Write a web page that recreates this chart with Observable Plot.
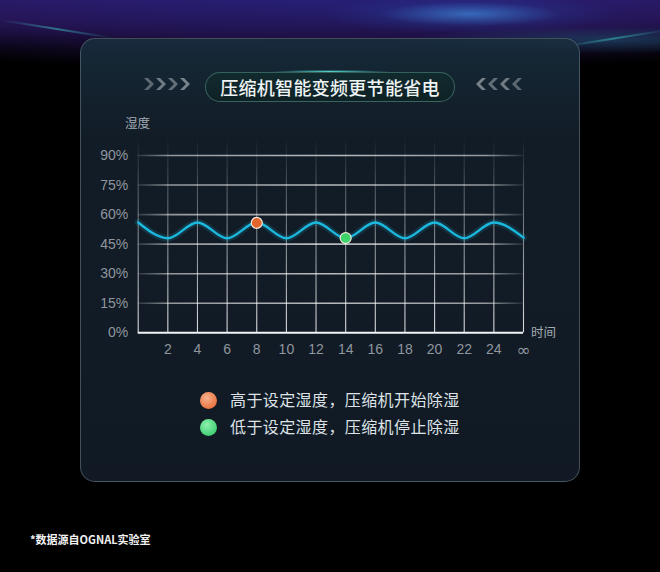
<!DOCTYPE html>
<html>
<head>
<meta charset="utf-8">
<script src="https://cdn.jsdelivr.net/npm/d3@7"></script>
<script src="https://cdn.jsdelivr.net/npm/@observablehq/plot@0.6"></script>
<style>
  html, body { margin: 0; padding: 0; background: #000; }
  #wrap {
    position: relative; width: 660px; height: 572px; overflow: hidden;
    background:
      radial-gradient(ellipse 150px 20px at 470px 14px, rgba(70,170,255,0.55), rgba(40,90,200,0.15) 60%, transparent 100%),
      radial-gradient(ellipse 200px 14px at 610px 40px, rgba(40,150,170,0.3), transparent 100%),
      radial-gradient(ellipse 700px 70px at 50% 0px, rgba(45,40,150,0.55) 0%, rgba(60,30,130,0.45) 55%, transparent 100%),
      linear-gradient(180deg, rgba(40,30,110,0.7) 0px, rgba(35,25,95,0.5) 22px, rgba(20,15,60,0.2) 40px, transparent 52px),
      #000;
    font-family: "Noto Sans CJK SC", "Noto Sans", sans-serif;
  }
  .streak { position: absolute; height: 1.5px; transform-origin: 0 0;
    background: linear-gradient(90deg, rgba(60,190,190,0), rgba(60,190,190,0.55), rgba(60,190,190,0)); }
  #panel {
    position: absolute; left: 80px; top: 38px; width: 498px; height: 442px;
    border-radius: 15px; border: 1px solid rgba(110,125,135,0.55);
    background: linear-gradient(180deg, rgba(24,46,62,0.9) 0%, #121c27 22%, #111a24 100%);
  }
  #pill {
    position: absolute; left: 205px; top: 72px; width: 248px; height: 28px;
    border-radius: 15px; border: 1px solid rgba(70,120,110,0.75);
    background: linear-gradient(180deg, #112a2e 0%, #0f2226 100%);
    color: #eef3f3; font-size: 18px; font-weight: 500; line-height: 28px;
    text-align: center; letter-spacing: 0.3px;
  }
  #glow {
    position: absolute; left: 270px; top: 70px; width: 120px; height: 3px;
    background: radial-gradient(ellipse at center, rgba(90,230,220,0.9), rgba(90,230,220,0) 70%);
  }
  .lbl { position: absolute; color: #a3abb3; font-size: 12.5px; white-space: nowrap; }
  .legend { position: absolute; left: 200px; color: #dde2e6; font-size: 16px; letter-spacing: 0.4px; white-space: nowrap; }
  .legend span.dot {
    display: inline-block; width: 17px; height: 17px; border-radius: 50%;
    vertical-align: -3px; margin-right: 13px;
  }
  #note { position: absolute; left: 30px; top: 531px; color: #f2f2f2; font-size: 11px; font-weight: 700; white-space: nowrap; }
  #chart { position: absolute; left: 90px; top: 110px; }
</style>
</head>
<body>
<div id="wrap">
  <div class="streak" style="left:0px;top:19px;width:115px;transform:rotate(9deg);"></div>
  <div class="streak" style="left:560px;top:46px;width:110px;transform:rotate(-9deg);"></div>
  <div id="panel"></div>
  <div id="glow"></div>
  <div id="pill"></div>
  <svg id="chevL" style="position:absolute;left:142px;top:77px" width="50" height="14"></svg>
  <svg id="chevR" style="position:absolute;left:474px;top:77px" width="50" height="14"></svg>
  <div class="lbl" id="ylab" style="left:125px;top:113px;"></div>
  <div class="lbl" id="xlab" style="left:531px;top:322px;"></div>
  <div id="chart"></div>
  <div class="legend" id="leg1" style="top:387px;"><span class="dot" style="background:radial-gradient(circle at 40% 35%, #f7b08c, #e9733f 75%);"></span><span class="t"></span></div>
  <div class="legend" id="leg2" style="top:414px;"><span class="dot" style="background:radial-gradient(circle at 40% 35%, #8ef0ae, #3fcf72 75%);"></span><span class="t"></span></div>
  <div id="note"></div>
</div>
<script>
// ---- data ----
const titleText = "压缩机智能变频更节能省电";
const yAxisTitle = "湿度";
const xAxisTitle = "时间";
const legendTexts = ["高于设定湿度，压缩机开始除湿", "低于设定湿度，压缩机停止除湿"];
const noteText = "*数据源自OGNAL实验室";

const yTicks = [0, 15, 30, 45, 60, 75, 90];
const xTicks = [2, 4, 6, 8, 10, 12, 14, 16, 18, 20, 22, 24, 26];
const xTickLabels = ["2", "4", "6", "8", "10", "12", "14", "16", "18", "20", "22", "24", "∞"];
const xGrid = [0, 2, 4, 6, 8, 10, 12, 14, 16, 18, 20, 22, 24, 26];
const yGrid = [15, 30, 45, 60, 75, 90];

const times    = [0, 2, 4, 6, 8, 10, 12, 14, 16, 18, 20, 22, 24, 26];
const humidity = [56, 48, 56, 48, 56, 48, 56, 48, 56, 48, 56, 48, 56, 48.3];

const markerTimes  = [8, 14];
const markerValues = [55.8, 48.1];
const markerColors = ["#e2652c", "#3fd36b"];

// ---- text ----
document.getElementById("pill").textContent = titleText;
document.getElementById("ylab").textContent = yAxisTitle;
document.getElementById("xlab").textContent = xAxisTitle;
document.querySelector("#leg1 .t").textContent = legendTexts[0];
document.querySelector("#leg2 .t").textContent = legendTexts[1];
document.getElementById("note").textContent = noteText;

// chevrons
function chevrons(id, dir) {
  const s = d3.select("#" + id);
  const ops = dir > 0 ? [0.55, 0.7, 0.6, 0.75] : [0.75, 0.6, 0.7, 0.55];
  for (let i = 0; i < 4; i++) {
    const x0 = 2 + i * 12;
    const pts = dir > 0
      ? [[x0, 1], [x0 + 4, 1], [x0 + 10, 7], [x0 + 4, 13], [x0, 13], [x0 + 6, 7]]
      : [[x0 + 10, 1], [x0 + 6, 1], [x0, 7], [x0 + 6, 13], [x0 + 10, 13], [x0 + 4, 7]];
    s.append("polygon").attr("points", pts.map(p => p.join(",")).join(" "))
      .attr("fill", "#9aa3a8").attr("opacity", ops[i]);
  }
}
chevrons("chevL", 1);
chevrons("chevR", -1);

// ---- chart ----
const series = times.map((t, i) => ({t, h: humidity[i]}));
const markers = markerTimes.map((t, i) => ({t, h: markerValues[i], c: markerColors[i]}));

const W = 480, H = 260;
const chart = Plot.plot({
  width: W, height: H,
  marginLeft: 47.7, marginRight: 47, marginTop: 27.3, marginBottom: 37.7,
  style: {background: "transparent", color: "#8f969e", fontSize: "14px", fontFamily: "'Liberation Sans', Arial, sans-serif", overflow: "visible"},
  x: {domain: [0, 26]},
  y: {domain: [0, 99]},
  marks: [
    Plot.ruleY(yGrid, {stroke: "url(#hgrad)", strokeWidth: 1.6}),
    Plot.ruleX(xGrid, {stroke: "url(#vgrad)", strokeWidth: 1.1}),
    Plot.ruleY([0], {stroke: "#f2f4f6", strokeWidth: 2}),
    Plot.line(series, {x: "t", y: "h", curve: "monotone-x", stroke: "#1fc0e6", strokeWidth: 7, strokeOpacity: 0.15}),
    Plot.line(series, {x: "t", y: "h", curve: "monotone-x", stroke: "#1cb9df", strokeWidth: 2.4}),
    Plot.dot(markers, {x: "t", y: "h", r: 5.5, fill: "c", stroke: "#f4e6dc", strokeWidth: 1.2}),
    Plot.axisY(yTicks, {tickSize: 0, tickPadding: 10, tickFormat: d => d + "%", label: null, fontSize: 14}),
    Plot.axisX(xTicks, {tickSize: 0, tickPadding: 11, tickFormat: d => xTickLabels[xTicks.indexOf(d)], label: null, fontSize: 14})
  ]
});

// gradients for the grid (positions from scales)
const xs = chart.scale("x"), ys = chart.scale("y");
const xL = xs.apply(0), xR = xs.apply(26);
const yT = ys.apply(99), yB = ys.apply(0);
const svg = d3.select(chart);
const defs = svg.insert("defs", ":first-child");
const hg = defs.append("linearGradient").attr("id", "hgrad").attr("gradientUnits", "userSpaceOnUse")
  .attr("x1", xL - 5).attr("x2", xR + 2).attr("y1", 0).attr("y2", 0);
[[0, 0.05], [0.1, 0.55], [0.5, 0.7], [0.9, 0.55], [1, 0.05]].forEach(([o, a]) =>
  hg.append("stop").attr("offset", o).attr("stop-color", "#ffffff").attr("stop-opacity", a));
const vg = defs.append("linearGradient").attr("id", "vgrad").attr("gradientUnits", "userSpaceOnUse")
  .attr("x1", 0).attr("x2", 0).attr("y1", yT).attr("y2", yB);
[[0, 0.0], [0.3, 0.3], [0.7, 0.6], [1, 0.85]].forEach(([o, a]) =>
  vg.append("stop").attr("offset", o).attr("stop-color", "#ffffff").attr("stop-opacity", a));

// make the infinity sign as wide as in the reference
svg.selectAll("text").filter(function() { return this.textContent === "∞"; })
  .style("font-family", "'DejaVu Sans', sans-serif").style("font-size", "17px");

document.getElementById("chart").appendChild(chart);
</script>
</body>
</html>
